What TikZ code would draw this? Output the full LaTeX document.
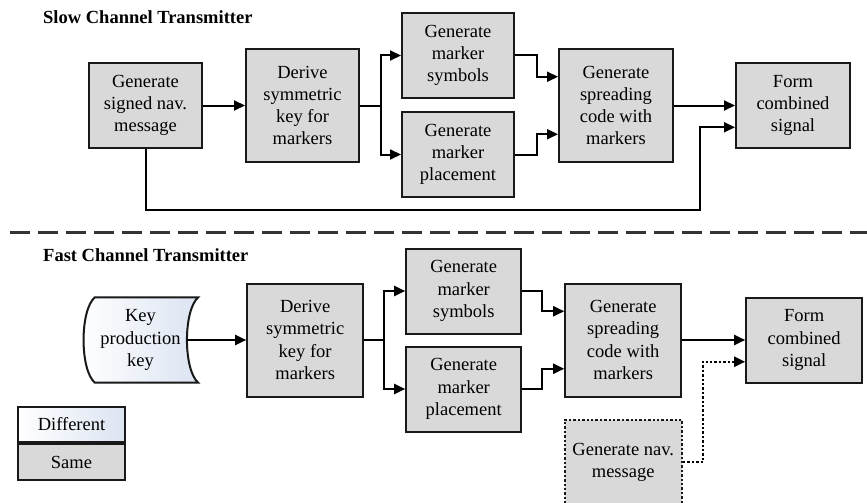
\documentclass[tikz,border=0pt]{standalone}
\usepackage{fontspec}
\setmainfont{Liberation Serif}
\usetikzlibrary{positioning,arrows.meta,calc}
\definecolor{samegray}{HTML}{D9D9D9}
\definecolor{diffblue}{HTML}{DCE4F2}
\newcommand{\boxfont}{\fontsize{18.5}{22.2}\selectfont}

\begin{document}
\begin{tikzpicture}[x=1pt, y=-1pt,
  blk/.style={draw=black!90, line width=2pt, fill=samegray, align=center, font=\boxfont, inner sep=1pt},
  short/.style={blk, minimum width=#1, minimum height=85pt},
  short/.default=113pt,
  tall/.style={blk, minimum width=#1, minimum height=113pt},
  tall/.default=114pt,
  heading/.style={font=\fontsize{18.5}{22}\selectfont\bfseries, anchor=west, inner sep=0pt},
  link/.style={line width=2pt, -{Triangle[length=11pt,width=10pt]}},
  dotline/.style={line width=2.4pt, dash pattern=on 2.4pt off 2pt},
  diff/.style={left color=white, right color=diffblue}]
\useasboundingbox (0,0) rectangle (867,503);

% slow channel
\node[heading] (slowt) at (43,17) {Slow Channel Transmitter};
\node[short] (sgen) at (145.5,105.5) {Generate\\signed nav.\\message};
\node[tall=113pt, right=42pt of sgen] (sder) {Derive\\symmetric\\key for\\markers};
\node[short=112pt, right=41pt of sder, yshift=50pt] (ssym) {Generate\\marker\\symbols};
\node[short=112pt, right=41pt of sder, yshift=-49pt] (splc) {Generate\\marker\\placement};
\node[tall, right=43pt of ssym, yshift=-50pt] (sspr) {Generate\\spreading\\code with\\markers};
\node[short=114pt, right=61pt of sspr] (sform) {Form\\combined\\signal};
\coordinate (ssymin) at ($(sspr.north west)!0.25!(sspr.south west)$);
\coordinate (splcin) at ($(sspr.north west)!0.75!(sspr.south west)$);
\coordinate (sgenin) at ($(sform.north west)!0.75!(sform.south west)$);
\coordinate (loopc) at (700,210);
\draw[link] (sgen) -- (sder);
\foreach \b in {ssym, splc} \draw[link] (sder.east) -- ++(21,0) |- (\b.west);
\draw[link] (ssym.east) -- ++(22,0) |- (ssymin);
\draw[link] (splc.east) -- ++(22,0) |- (splcin);
\draw[link] (sspr) -- (sform);
\draw[link] (sgen.south) |- (loopc) |- (sgenin);

\draw[line width=3pt, dash pattern=on 20pt off 8pt, black!80] (10,232) -- (867,232);

% fast channel
\node[heading] (fastt) at (43,255) {Fast Channel Transmitter};
\node[minimum width=115pt, minimum height=85pt, inner sep=0pt] (fkey) at (140.5,340) {};
\path[diff, draw=black!90, line width=2pt]
  ([xshift=12pt]fkey.north west) -- (fkey.north east)
  .. controls ([xshift=-15pt,yshift=-13pt]fkey.north east) and ([xshift=-15pt,yshift=13pt]fkey.south east) .. (fkey.south east)
  -- ([xshift=12pt]fkey.south west)
  .. controls ([xshift=-3pt,yshift=13pt]fkey.south west) and ([xshift=-3pt,yshift=-13pt]fkey.north west) .. cycle;
\node[align=center, font=\boxfont, inner sep=1pt] (fkeytext) at (fkey) {Key\\production\\key};
\coordinate (keyout) at ([xshift=-11pt]fkey.east);
\node[tall=116pt, right=48pt of fkey] (fder) {Derive\\symmetric\\key for\\markers};
\node[short=115pt, right=41pt of fder, yshift=49pt] (fsym) {Generate\\marker\\symbols};
\node[short=115pt, right=41pt of fder, yshift=-49pt] (fplc) {Generate\\marker\\placement};
\node[tall=116pt, right=42pt of fsym, yshift=-49pt] (fspr) {Generate\\spreading\\code with\\markers};
\node[short=116pt, right=63pt of fspr] (fform) {Form\\combined\\signal};
\node[short=117pt, dotline, below=21pt of fspr] (fnav) {Generate nav.\\message};
\coordinate (fsymin) at ($(fspr.north west)!0.25!(fspr.south west)$);
\coordinate (fplcin) at ($(fspr.north west)!0.75!(fspr.south west)$);
\coordinate (fnavin) at ($(fform.north west)!0.75!(fform.south west)$);
\draw[link] (keyout) -- (fder);
\foreach \b in {fsym, fplc} \draw[link] (fder.east) -- ++(20,0) |- (\b.west);
\draw[link] (fsym.east) -- ++(20,0) |- (fsymin);
\draw[link] (fplc.east) -- ++(20,0) |- (fplcin);
\draw[link] (fspr) -- (fform);
\draw[link, dotline] (fnav.east) -- ++(20,0) |- (fnavin);

% legend
\node[blk, diff, minimum width=107pt, minimum height=35pt] (ldiff) at (71.5,424.5) {Different};
\node[blk, minimum width=107pt, minimum height=36pt, below=0pt of ldiff] (lsame) {Same};
\end{tikzpicture}
\end{document}
